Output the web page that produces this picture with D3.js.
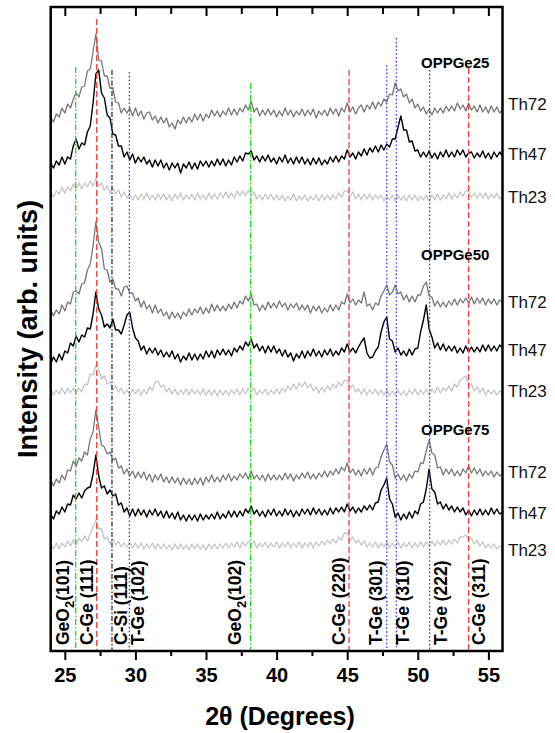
<!DOCTYPE html>
<html>
<head>
<meta charset="utf-8">
<script src="https://cdn.jsdelivr.net/npm/d3@7"></script>
<style>
  body { margin: 0; background: #fff; }
  svg { display: block; }
  text { font-family: "Liberation Sans", Arial, sans-serif; }
</style>
</head>
<body>
<svg id="chart" width="555" height="733"></svg>
<script>
// Scan grid: 24° to 56° in 0.2° steps
const angleStart = 24, angleStep = 0.2;

// Intensities (arb. units, above each trace's stacking offset)
const ge25_th72 = [15,10,18,15,24,19,28,24,33,39, 35,45,46,61,63,80,98,72,71,56, 56,44,44,30,29,19,24,19,24,16, 24,16,21,13,19,20,12,16,9,15, 9,14,5,9,3,12,8,15,9,15, 10,18,12,18,11,18,14,22,16,21, 15,21,17,24,17,23,17,24,20,27, 22,31,20,24,16,22,17,23,17,22, 15,21,16,24,17,22,15,21,17,23, 16,22,17,23,14,21,17,22,16,24, 18,23,16,24,20,29,20,25,18,24, 27,20,27,23,30,23,30,26,33,30, 38,37,49,41,43,35,38,29,33,24, 28,21,25,18,23,17,24,19,24,19, 26,21,26,21,29,23,27,21,29,22, 26,20,27,20,25,19,26,20,25,19, 22];
const ge25_th47 = [10,5,12,8,16,9,16,14,27,34, 24,30,28,41,47,70,99,103,80,75, 58,55,39,38,27,27,16,21,13,19, 10,16,11,16,9,13,6,13,7,13, 5,10,3,10,5,10,0,9,5,11, 4,10,4,12,7,12,6,12,7,14, 8,14,7,13,8,16,11,17,12,20, 19,22,13,17,11,17,12,18,11,15, 9,16,11,18,10,15,9,16,10,16, 9,14,8,15,9,15,8,13,9,16, 11,17,11,17,14,23,16,20,14,21, 17,24,18,25,21,27,21,28,23,29, 26,34,34,46,57,43,43,31,32,22, 23,16,21,16,22,15,20,14,21,16, 23,16,21,16,23,18,23,16,20,21, 15,20,16,22,15,20,14,21,16,21, 17];
const ge25_th23 = [12,7,13,10,17,11,17,13,20,15, 21,15,21,17,23,18,26,18,21,14, 18,11,16,10,14,7,12,6,10,4, 9,4,10,5,11,4,9,4,10,5, 10,4,9,3,10,5,11,4,9,5, 10,4,11,5,9,4,11,5,10,5, 11,6,12,6,11,6,13,8,13,8, 14,9,12,5,9,4,10,5,10,4, 9,4,9,3,8,4,10,3,8,4, 9,3,8,4,9,3,9,4,9,4, 9,5,11,7,13,13,8,12,5,10, 4,10,5,10,4,9,5,9,3,8, 4,9,3,9,4,8,3,9,4,9, 3,8,4,9,3,9,4,10,4,9, 5,11,5,10,6,12,8,13,13,7, 11,6,11,6,11,5,10,6,11,5, 8];

const ge50_th72 = [13,7,13,9,18,12,21,19,31,32, 29,39,40,53,59,77,101,81,74,54, 53,41,44,34,34,27,36,37,30,30, 22,25,16,22,14,18,10,18,10,14, 7,11,4,11,5,10,4,11,7,14, 8,14,10,16,9,15,10,19,12,18, 12,17,12,19,14,21,15,22,19,27, 22,29,18,19,12,18,13,21,15,20, 15,22,16,20,13,19,15,20,13,18, 13,18,10,17,12,17,10,15,11,18, 12,18,13,21,19,29,20,24,18,23, 20,31,17,19,13,20,18,27,32,38, 28,31,38,29,31,23,28,21,27,21, 28,28,37,41,27,26,17,22,16,21, 16,22,18,24,18,24,20,25,20,26, 19,25,20,25,18,24,19,24,18,23, 21];
const ge50_th47 = [4,11,6,14,8,17,15,25,22,32, 26,33,31,40,39,54,76,59,53,41, 44,40,49,38,38,34,43,53,56,40, 30,27,18,22,14,20,15,20,13,18, 11,16,11,17,9,14,6,12,8,15, 8,14,8,14,9,17,11,17,10,18, 13,19,13,18,12,20,16,22,18,26, 22,29,20,24,17,22,15,22,16,22, 15,19,12,18,11,15,7,14,10,17, 10,17,12,19,12,17,11,18,13,19, 12,17,13,20,16,24,16,20,15,21, 26,30,15,10,11,17,21,36,46,51, 29,27,16,20,13,17,12,19,13,19, 20,36,48,63,39,31,20,25,18,24, 17,22,17,22,15,20,15,22,16,21, 16,21,16,23,17,23,17,22,17,23, 20];
const ge50_th23 = [10,4,9,5,11,5,11,6,11,6, 11,7,15,14,25,24,34,30,20,23, 15,17,9,13,7,11,5,9,4,10, 5,10,4,9,5,12,9,17,18,12, 14,7,11,5,10,4,9,5,10,4, 10,5,9,4,10,4,9,4,9,3, 9,4,9,4,9,5,10,4,10,5, 11,7,11,4,9,5,10,4,9,5, 10,5,11,7,13,9,15,10,16,12, 17,11,15,8,12,6,12,7,13,9, 15,11,17,13,19,18,11,14,7,10, 5,10,4,9,5,10,4,9,4,9, 3,8,4,9,4,8,3,9,5,10, 4,9,5,10,4,10,6,12,6,11, 8,13,8,15,12,19,21,23,15,15, 8,12,6,11,4,9,5,9,4,8, 6];

const ge75_th72 = [10,4,11,7,15,10,20,19,29,24, 32,29,38,35,51,58,80,63,45,43, 36,38,30,32,22,24,16,21,14,19, 12,18,12,18,10,16,8,15,10,16, 8,13,7,13,7,12,5,12,6,11, 5,12,6,12,5,13,8,15,8,13, 8,15,10,16,9,14,10,16,12,17, 11,19,11,15,10,15,9,16,10,15, 10,15,10,17,11,16,9,15,11,17, 12,18,11,16,11,17,13,19,13,19, 15,21,16,23,19,27,17,21,15,20, 14,21,16,22,15,22,23,33,40,46, 28,25,12,16,10,15,9,16,12,19, 18,27,27,39,50,37,35,22,23,15, 21,16,21,14,19,14,21,17,24,17, 22,16,21,14,19,15,19,13,18,14, 16];
const ge75_th47 = [11,6,14,11,18,13,21,20,30,26, 32,27,34,37,38,51,70,49,37,39, 31,35,29,31,20,22,13,17,9,16, 9,16,10,15,8,15,10,16,9,14, 7,14,7,12,6,13,5,10,4,10, 5,10,4,11,5,10,6,11,6,13, 6,11,7,14,8,14,8,14,9,16, 12,19,11,15,9,14,8,15,10,16, 9,14,9,16,10,15,8,14,9,16, 11,16,10,17,11,16,10,15,10,17, 11,17,13,18,13,21,14,18,12,17, 13,19,15,20,15,22,23,35,40,47, 26,21,8,12,5,11,6,13,7,14, 11,21,23,36,56,36,33,21,23,16, 21,15,19,13,18,13,17,10,15,9, 15,10,16,10,15,10,17,11,16,11, 13];
const ge75_th23 = [8,3,9,3,9,5,11,6,12,7, 14,10,16,11,18,25,32,23,23,13, 15,8,13,7,11,5,9,5,10,4, 9,4,9,3,8,4,9,3,8,3, 8,3,7,2,8,3,8,3,7,2, 8,3,8,3,7,2,8,3,8,3, 8,4,9,4,9,5,10,4,10,6, 11,7,11,4,9,5,10,4,9,5, 10,4,9,5,10,4,9,5,10,4, 9,5,10,4,10,6,11,7,12,8, 13,9,15,12,19,19,12,15,9,12, 7,11,5,9,5,10,4,9,5,10, 4,9,5,10,4,9,5,10,4,9, 5,10,5,10,6,11,6,11,7,12, 7,12,8,13,9,15,15,17,12,14, 8,12,6,10,4,8,4,8,3,6, 4];

// Stacking offsets (arb. units) and annotation levels
const sampleNames = ["OPPGe25", "OPPGe50", "OPPGe75"];
const sampleLabelLevel = [583, 391, 216];
const thicknessNames = ["Th72", "Th47", "Th23"];
const traceOffsets = [[519, 478, 447], [328, 283, 252], [161, 126, 99]];
const traceLabelLevel = [[541, 491, 448], [343, 295, 254], [173, 132, 95]];
const traceValues = [[ge25_th72, ge25_th47, ge25_th23], [ge50_th72, ge50_th47, ge50_th23], [ge75_th72, ge75_th47, ge75_th23]];

// Reference reflections
const refAngles = [25.77, 27.26, 28.34, 29.57, 38.16, 45.13, 47.8, 48.48, 50.84, 53.6];
const refPhase = ["GeO", "C-Ge (111)", "C-Si  (111)", "T-Ge (102)", "GeO", "C-Ge (220)", "T-Ge (301)", "T-Ge (310)", "T-Ge (222)", "C-Ge (311)"];
const refPlane = ["(101)", "", "", "", "(102)", "", "", "", "", ""];
const refKind = ["oxide", "cubicGe", "cubicSi", "tetraGe", "oxide", "cubicGe", "tetraGe", "tetraGe", "tetraGe", "cubicGe"];
const refTop = [584, 632, 581, 579, 568, 581, 586, 613, 581, 583];

// Axis ticks
const xTicks = [25, 27.5, 30, 32.5, 35, 37.5, 40, 42.5, 45, 47.5, 50, 52.5, 55];

const svg = d3.select("#chart");
const x = d3.scaleLinear().domain([24, 56]).range([50.7, 502.5]);
const y = d3.scaleLinear().domain([0, 644]).range([651, 7]);

const traceColor = ["#777777", "#000000", "#c4c4c4"];
const traceWidth = [1.3, 1.4, 1.3];
const refStyle = {
  oxide:   { color: "#1fd81f", dash: "6,2,1.5,2" },
  cubicGe: { color: "#f03c3c", dash: "6,3" },
  cubicSi: { color: "#333333", dash: "5,2,1.5,2" },
  tetraGe: { color: "#3a3af5", dash: "1.6,2.2" }
};
// label baseline shift from its line (px), text reads upward
const refLabelDx = [-7, -4, 15, 15, -10, -4, -5, 13, 17, 16];

// traces
const line = d3.line()
  .x((d, i) => x(angleStart + i * angleStep))
  .y(d => y(d));

traceValues.forEach((grp, g) => {
  grp.forEach((vals, t) => {
    const off = traceOffsets[g][t];
    svg.append("path")
      .attr("d", line(vals.map(v => v + off)))
      .attr("fill", "none")
      .attr("stroke", traceColor[t])
      .attr("stroke-width", traceWidth[t])
      .attr("stroke-linejoin", "round");
  });
});

// reference lines
refAngles.forEach((a, i) => {
  const s = refStyle[refKind[i]];
  svg.append("line")
    .attr("x1", x(a)).attr("x2", x(a))
    .attr("y1", y(refTop[i])).attr("y2", y(0))
    .attr("stroke", s.color)
    .attr("stroke-width", 1.3)
    .attr("stroke-dasharray", s.dash);
});

// reference labels (rotated)
refAngles.forEach((a, i) => {
  const t = svg.append("text")
    .attr("transform", `translate(${x(a) + refLabelDx[i]},645) rotate(-90)`)
    .attr("font-size", 17.5)
    .attr("font-weight", "bold")
    .attr("fill", "#000");
  t.append("tspan").text(refPhase[i]);
  if (refPlane[i]) {
    t.append("tspan").attr("font-size", 13).attr("dy", 5).text("2");
    t.append("tspan").attr("dy", -5).text(refPlane[i]);
  }
});

// frame
svg.append("rect")
  .attr("x", x(24)).attr("y", y(644))
  .attr("width", x(56) - x(24)).attr("height", y(0) - y(644))
  .attr("fill", "none").attr("stroke", "#000").attr("stroke-width", 2.5);

const isMajor = d => d % 5 === 0;

// bottom axis
const gx = svg.append("g")
  .attr("transform", `translate(0,${y(0)})`)
  .call(d3.axisBottom(x).tickValues(xTicks).tickSize(9).tickPadding(8)
    .tickFormat(d => isMajor(d) ? d : ""));
gx.select(".domain").remove();
gx.selectAll(".tick line").attr("y2", d => isMajor(d) ? 9 : 5).attr("stroke-width", 2);
gx.selectAll(".tick text")
  .attr("font-size", 20).attr("font-weight", "bold")
  .attr("font-family", "'Liberation Sans', Arial, sans-serif").attr("fill", "#000");

// top axis (inward ticks)
const gt = svg.append("g")
  .attr("transform", `translate(0,${y(644)})`)
  .call(d3.axisTop(x).tickValues(xTicks).tickSize(-9).tickFormat(""));
gt.select(".domain").remove();
gt.selectAll(".tick line").attr("y2", d => isMajor(d) ? 9 : 7).attr("stroke-width", 2);

// trace labels
traceLabelLevel.forEach((grp, g) => {
  grp.forEach((lv, t) => {
    svg.append("text")
      .attr("x", 508).attr("y", y(lv))
      .attr("font-size", 17).attr("fill", "#111")
      .text(thicknessNames[t]);
  });
});

// sample labels
sampleNames.forEach((n, g) => {
  svg.append("text")
    .attr("x", 421).attr("y", y(sampleLabelLevel[g]))
    .attr("font-size", 15).attr("font-weight", "bold").attr("fill", "#000")
    .text(n);
});

// axis titles
svg.append("text")
  .attr("x", 280).attr("y", 725)
  .attr("text-anchor", "middle")
  .attr("font-size", 25).attr("font-weight", "bold")
  .text("2θ (Degrees)");

svg.append("text")
  .attr("transform", "translate(37,329) rotate(-90)")
  .attr("text-anchor", "middle")
  .attr("font-size", 27).attr("font-weight", "bold")
  .text("Intensity (arb. units)");
</script>
</body>
</html>
